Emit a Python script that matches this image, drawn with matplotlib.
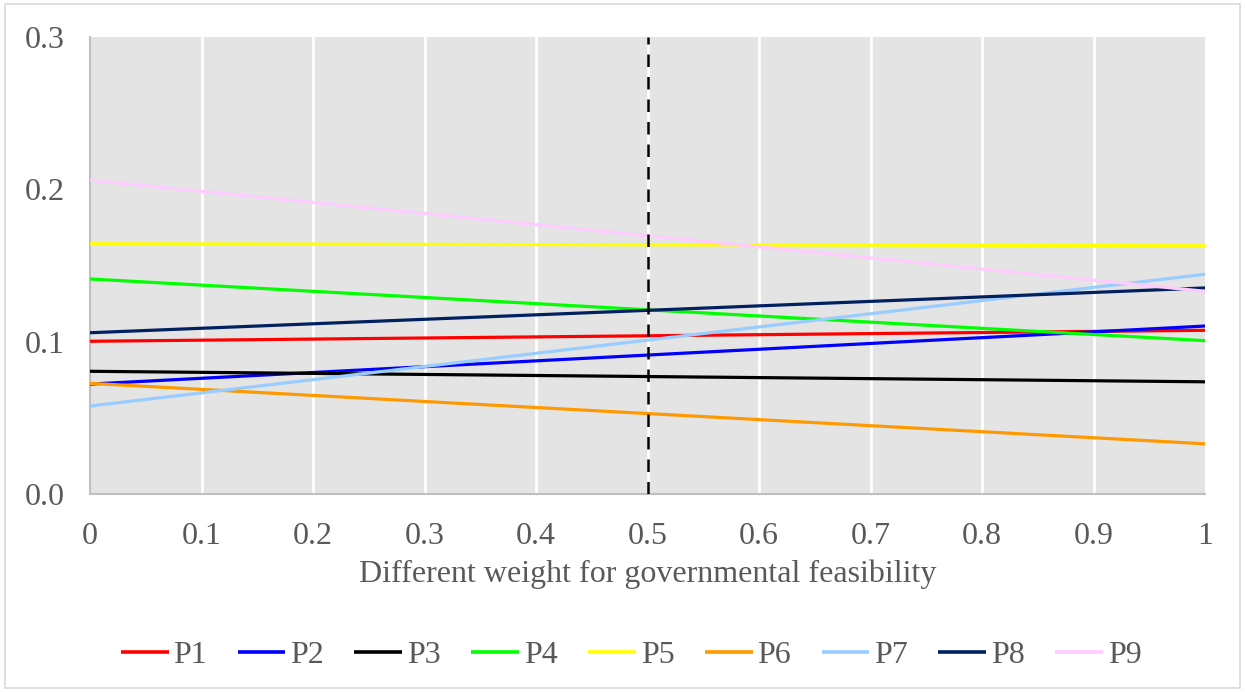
import matplotlib.pyplot as plt
from matplotlib.patches import Rectangle

plt.rcParams['font.family'] = ['Liberation Serif', 'DejaVu Serif']

# weight range (lines are straight between the two ends)
weights = [0, 1]
names = ['P1', 'P2', 'P3', 'P4', 'P5', 'P6', 'P7', 'P8', 'P9']
p1 = [0.1003, 0.1075]
p2 = [0.0722, 0.1103]
p3 = [0.0806, 0.0737]
p4 = [0.1412, 0.1007]
p5 = [0.1643, 0.1630]
p6 = [0.0727, 0.0330]
p7 = [0.0578, 0.1443]
p8 = [0.1059, 0.1353]
p9 = [0.2060, 0.1331]
colors = ['#FF0000', '#0000FF', '#000000', '#00FF00', '#FFFF00',
          '#FF9900', '#99CCFF', '#002060', '#FFCCFF']
xticks = [0, 0.1, 0.2, 0.3, 0.4, 0.5, 0.6, 0.7, 0.8, 0.9, 1]
xticklabels = ['0', '0.1', '0.2', '0.3', '0.4', '0.5', '0.6', '0.7', '0.8', '0.9', '1']
yticks = [0.0, 0.1, 0.2, 0.3]
yticklabels = ['0.0', '0.1', '0.2', '0.3']

txt = '#595959'

fig = plt.figure(figsize=(12.45, 6.92), dpi=100)
ax = fig.add_axes([0.0723, 0.286, 0.8956, 0.6605])
ax.set_facecolor('#E4E4E4')

# outer frame of the chart
fig.patches.append(Rectangle((0.004, 0.006), 0.992, 0.988, transform=fig.transFigure,
                             fill=False, edgecolor='#D9D9D9', linewidth=1.2))

for x in xticks[1:-1]:
    ax.axvline(x, color='white', linewidth=2, zorder=1)

series = [p1, p2, p3, p4, p5, p6, p7, p8, p9]
for name, vals, c in zip(names, series, colors):
    ax.plot(weights, vals, color=c, linewidth=2.3, label=name, zorder=3,
            solid_capstyle='butt')

ax.axvline(0.5, color='black', linewidth=1.8, linestyle=(0, (5, 4)), zorder=4)

ax.set_xlim(0, 1)
ax.set_ylim(0, 0.3)
ax.set_xticks(xticks)
ax.set_xticklabels(xticklabels)
ax.set_yticks(yticks)
ax.set_yticklabels(yticklabels)
ax.tick_params(length=0, labelsize=23, labelcolor=txt)
ax.tick_params(axis='x', pad=20)
ax.tick_params(axis='y', pad=47)
for lbl in ax.get_yticklabels():
    lbl.set_horizontalalignment('left')

for side in ['top', 'right']:
    ax.spines[side].set_visible(False)
for side in ['left', 'bottom']:
    ax.spines[side].set_color('#BFBFBF')
    ax.spines[side].set_linewidth(1.5)

ax.set_xlabel('Different weight for governmental feasibility', fontsize=23,
              color=txt, labelpad=6)

leg = fig.legend(loc='center', bbox_to_anchor=(0.507, 0.053), ncol=9, frameon=False,
                 fontsize=23, handlelength=1.5, handletextpad=0.15,
                 columnspacing=0.95, labelcolor=txt)
for h in leg.get_lines():
    h.set_linewidth(2.6)

fig.savefig('out.png', dpi=100)
